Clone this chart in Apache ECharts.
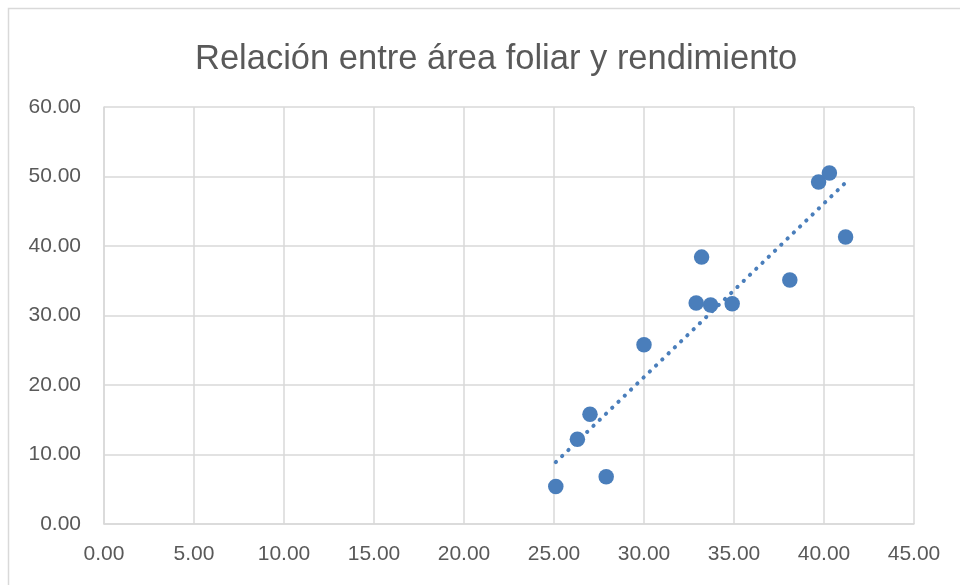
<!DOCTYPE html>
<html>
<head>
<meta charset="utf-8">
<script src="https://cdn.jsdelivr.net/npm/echarts@6/dist/echarts.min.js"></script>
<style>html,body{margin:0;padding:0;background:#fff}#c{width:960px;height:585px}</style>
</head>
<body>
<div id="c"></div>
<script>
const titleText = 'Relación entre área foliar y rendimiento';
const areaFoliar = [25.1, 26.3, 27.0, 27.9, 30.0, 32.9, 33.2, 33.7, 34.9, 38.1, 39.7, 40.3, 41.2];
const rendimiento = [5.4, 12.2, 15.8, 6.8, 25.8, 31.8, 38.4, 31.5, 31.7, 35.1, 49.2, 50.5, 41.3];
const xTicks = {min: 0, max: 45, interval: 5};
const yTicks = {min: 0, max: 60, interval: 10};

const points = areaFoliar.map((x, i) => [x, rendimiento[i]]);
// linear least-squares trendline (Excel-style), drawn between min and max x
const n = points.length;
const mx = areaFoliar.reduce((a, b) => a + b, 0) / n;
const my = rendimiento.reduce((a, b) => a + b, 0) / n;
let sxy = 0, sxx = 0;
for (let i = 0; i < n; i++) { sxy += (areaFoliar[i] - mx) * (rendimiento[i] - my); sxx += (areaFoliar[i] - mx) ** 2; }
const slope = sxy / sxx, intercept = my - slope * mx;
const xmin = Math.min(...areaFoliar), xmax = Math.max(...areaFoliar);
const trend = [[xmin, intercept + slope * xmin], [xmax, intercept + slope * xmax]];

const chart = echarts.init(document.getElementById('c'));
const labelStyle = {color: '#595959', fontSize: 21, fontFamily: 'Liberation Sans', formatter: v => v.toFixed(2)};
chart.setOption({
  animation: false,
  backgroundColor: '#fff',
  graphic: [{type: 'rect', shape: {x: 8.5, y: 8.5, width: 1200, height: 1200}, style: {fill: 'none', stroke: '#d9d9d9', lineWidth: 1.5}, silent: true}],
  title: {text: titleText, left: 190, top: 37, textStyle: {color: '#595959', fontSize: 34.5, fontWeight: 'normal', fontFamily: 'Liberation Sans'}},
  grid: {left: 104, right: 46, top: 107, bottom: 61, containLabel: false},
  xAxis: {type: 'value', min: xTicks.min, max: xTicks.max, interval: xTicks.interval,
    axisLine: {show: true, lineStyle: {color: '#d9d9d9', width: 1.5}}, axisTick: {show: false},
    splitLine: {show: true, lineStyle: {color: '#d9d9d9', width: 1.5}},
    axisLabel: Object.assign({margin: 20}, labelStyle)},
  yAxis: {type: 'value', min: yTicks.min, max: yTicks.max, interval: yTicks.interval,
    axisLine: {show: true, lineStyle: {color: '#d9d9d9', width: 1.5}}, axisTick: {show: false},
    splitLine: {show: true, lineStyle: {color: '#d9d9d9', width: 1.5}},
    axisLabel: Object.assign({margin: 23}, labelStyle)},
  series: [
    {type: 'line', data: trend, symbol: 'none', z: 1,
      lineStyle: {color: '#4a7ebb', width: 4, type: [0.3, 8.4], cap: 'round'}},
    {type: 'scatter', data: points, symbolSize: 15.5, z: 2,
      itemStyle: {color: '#4a7ebb', opacity: 1}}
  ]
});
</script>
</body>
</html>
